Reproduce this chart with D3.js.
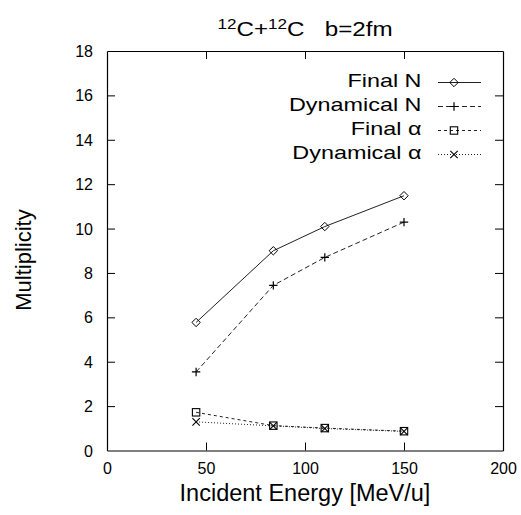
<!DOCTYPE html>
<html>
<head>
<meta charset="utf-8">
<script src="https://cdn.jsdelivr.net/npm/d3@7"></script>
<style>
  html, body { margin: 0; padding: 0; background: #fff; }
  svg text { font-family: "Liberation Sans", Arial, Helvetica, sans-serif; fill: #000; }
</style>
</head>
<body>
<svg id="chart" width="521" height="515"></svg>
<script>
// Incident energies (MeV/u)
const energies = [45, 84, 110, 150];
// Multiplicities per series
const finalN = [5.77, 9.0, 10.09, 11.48];
const dynamicalN = [3.54, 7.44, 8.70, 10.29];
const finalAlpha = [1.72, 1.12, 1.01, 0.87];
const dynamicalAlpha = [1.29, 1.11, 0.99, 0.86];
// Axis ticks
const xTicks = [0, 50, 100, 150, 200];
const yTicks = [0, 2, 4, 6, 8, 10, 12, 14, 16, 18];
const seriesNames = ["Final N", "Dynamical N", "Final α", "Dynamical α"];

const svg = d3.select("#chart");
const x = d3.scaleLinear().domain([0, 200]).range([107, 503]);
const y = d3.scaleLinear().domain([0, 18]).range([450.5, 51]);

const series = [
  { name: seriesNames[0], values: finalN, dash: null, marker: "diamond" },
  { name: seriesNames[1], values: dynamicalN, dash: "5,3", marker: "plus" },
  { name: seriesNames[2], values: finalAlpha, dash: "3,3", marker: "square" },
  { name: seriesNames[3], values: dynamicalAlpha, dash: "1,2", marker: "cross" }
];

// Frame with inward ticks on all four sides
const tickLen = 8;
const gx = svg.append("g").attr("transform", `translate(0,${y(0)})`)
  .call(d3.axisBottom(x).tickValues(xTicks).tickSizeInner(-tickLen).tickSizeOuter(0).tickPadding(12));
const gy = svg.append("g").attr("transform", `translate(${x(0)},0)`)
  .call(d3.axisLeft(y).tickValues(yTicks).tickSizeInner(-tickLen).tickSizeOuter(0).tickPadding(14));
const gx2 = svg.append("g").attr("transform", `translate(0,${y(18)})`)
  .call(d3.axisTop(x).tickValues(xTicks).tickSizeInner(-tickLen).tickSizeOuter(0).tickFormat(""));
const gy2 = svg.append("g").attr("transform", `translate(${x(200)},0)`)
  .call(d3.axisRight(y).tickValues(yTicks).tickSizeInner(-tickLen).tickSizeOuter(0).tickFormat(""));
[gx, gy, gx2, gy2].forEach(g => {
  g.select(".domain").attr("stroke", "#000").attr("stroke-width", 1.2);
  g.selectAll(".tick line").attr("stroke", "#000").attr("stroke-width", 1);
  g.selectAll(".tick text").style("font-size", "16px").attr("fill", "#000");
});
// Remove tick marks sitting on the frame corners
gx.selectAll(".tick").filter(d => d === 0 || d === 200).select("line").remove();
gx2.selectAll(".tick").filter(d => d === 0 || d === 200).select("line").remove();
gy.selectAll(".tick").filter(d => d === 0 || d === 18).select("line").remove();
gy2.selectAll(".tick").filter(d => d === 0 || d === 18).select("line").remove();
gy.selectAll(".tick text").attr("dy", "0.35em");
gx.selectAll(".tick text").attr("dy", "0.71em");

// Marker shapes
function drawMarker(g, kind, cx, cy) {
  const s = 4.2;
  if (kind === "diamond") {
    g.append("path").attr("d", `M${cx},${cy - s}L${cx + s},${cy}L${cx},${cy + s}L${cx - s},${cy}Z`)
      .attr("fill", "none").attr("stroke", "#000").attr("stroke-width", 1);
  } else if (kind === "plus") {
    g.append("path").attr("d", `M${cx - s},${cy}H${cx + s}M${cx},${cy - s}V${cy + s}`)
      .attr("fill", "none").attr("stroke", "#000").attr("stroke-width", 1.2);
  } else if (kind === "square") {
    g.append("rect").attr("x", cx - s + 0.5).attr("y", cy - s + 0.5).attr("width", 2 * s - 1).attr("height", 2 * s - 1)
      .attr("fill", "none").attr("stroke", "#000").attr("stroke-width", 1.1);
  } else if (kind === "cross") {
    const t = s - 0.5;
    g.append("path").attr("d", `M${cx - t},${cy - t}L${cx + t},${cy + t}M${cx - t},${cy + t}L${cx + t},${cy - t}`)
      .attr("fill", "none").attr("stroke", "#000").attr("stroke-width", 1.1);
  }
}

const line = d3.line().x(d => x(d[0])).y(d => y(d[1]));
series.forEach(s => {
  const pts = energies.map((e, i) => [e, s.values[i]]);
  const g = svg.append("g");
  g.append("path").datum(pts).attr("d", line)
    .attr("fill", "none").attr("stroke", "#222").attr("stroke-width", 1)
    .attr("stroke-dasharray", s.dash);
  pts.forEach(p => drawMarker(g, s.marker, x(p[0]), y(p[1])));
});

// Legend
const legend = svg.append("g");
series.forEach((s, i) => {
  const ly = 82.5 + i * 24;
  legend.append("text")
    .attr("transform", `translate(421.5,${ly + 4.5}) scale(1.3,1)`)
    .attr("text-anchor", "end").style("font-size", "18px").text(s.name);
  legend.append("line").attr("x1", 438).attr("x2", 481).attr("y1", ly).attr("y2", ly)
    .attr("stroke", "#222").attr("stroke-width", 1).attr("stroke-dasharray", s.dash);
  drawMarker(legend, s.marker, 454, ly);
});

// Title
const title = svg.append("text")
  .attr("transform", `translate(305,36) scale(1.18,1)`)
  .attr("text-anchor", "middle").style("font-size", "20.5px").style("white-space", "pre");
title.append("tspan").attr("dy", "-7").style("font-size", "14.5px").text("12");
title.append("tspan").attr("dy", "7").text("C+");
title.append("tspan").attr("dy", "-7").style("font-size", "14.5px").text("12");
title.append("tspan").attr("dy", "7").text("C   b=2fm");

// Axis titles
svg.append("text").attr("x", 305).attr("y", 501).attr("text-anchor", "middle")
  .style("font-size", "23.5px").text("Incident Energy [MeV/u]");
svg.append("text").attr("transform", "translate(31,260) rotate(-90)").attr("text-anchor", "middle")
  .style("font-size", "22px").text("Multiplicity");
</script>
</body>
</html>
